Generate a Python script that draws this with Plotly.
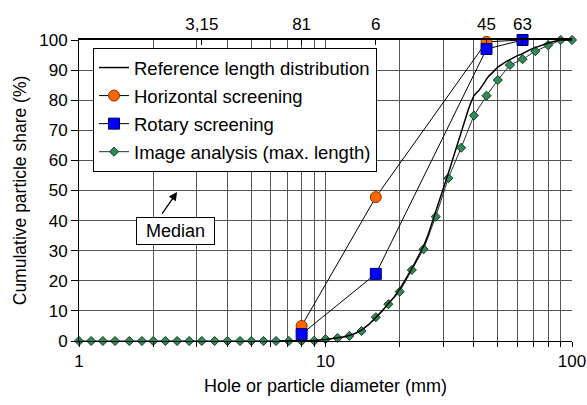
import plotly.graph_objects as go

# ---- data ----
img_x = [1, 1.12, 1.25, 1.4, 1.6, 1.8, 2, 2.24, 2.5, 2.8, 3.15, 3.55, 4, 4.5, 5, 5.6,
         6.3, 7.1, 8, 9, 10, 11.2, 12.5, 14, 16, 18, 20, 22.4, 25, 28, 31.5, 35.5,
         40, 45, 50, 56, 63, 71, 80, 90, 100]
img_y = [0, 0, 0, 0, 0, 0, 0, 0, 0, 0, 0, 0, 0, 0, 0, 0,
         0, 0, 0, 0.1, 0.6, 1.0, 1.7, 3.3, 7.9, 12.2, 16.4, 23.6, 30.5, 41.3, 54.1, 64.2,
         74.9, 81.5, 86.7, 91.7, 93.6, 96.3, 98.3, 100, 100]

ref_x = [6.5, 8, 9, 10, 11, 12, 13, 14, 15, 16, 17, 18, 19, 20, 21, 22, 23, 24, 25,
         26, 27, 28, 29, 30, 31, 32, 33, 34, 35, 36, 37, 38, 39, 40, 41, 42, 43, 44,
         45, 46, 47, 48, 50, 52, 54, 56, 58, 60, 62, 64, 66, 68, 70, 73, 76, 80, 85,
         90, 100]
ref_y = [0, 0.1, 0.2, 0.5, 0.9, 1.4, 2.3, 3.6, 5.5, 7.7, 10.0, 12.5, 14.6, 17.2, 20.0,
         23.0, 25.8, 28.5, 31.5, 35.0, 39.0, 43.0, 46.5, 50.5, 54.0, 57.5, 61.0, 64.5,
         67.5, 71.0, 74.0, 77.0, 79.5, 81.5, 82.5, 83.3, 84.5, 86.0, 87.0, 88.0, 88.6,
         89.5, 91.0, 92.0, 92.8, 93.5, 94.3, 94.8, 95.2, 95.8, 96.5, 96.9, 97.3, 97.9,
         98.4, 99.0, 99.6, 100, 100]

sieve_x = [8, 16, 45, 63]
horiz_y = [5.0, 47.8, 99.4, 100]
rotary_y = [2.3, 22.3, 97.0, 100]

top_tickvals = [3.15, 8, 16, 45, 63]
top_ticktext = ["3,15", "81", "6", "45", "63"]

bottom_tickvals = [1, 2, 3, 4, 5, 6, 7, 8, 9, 10, 20, 30, 40, 50, 60, 70, 80, 90, 100]
bottom_ticktext = ["1", "", "", "", "", "", "", "", "", "10", "", "", "", "", "", "", "", "", "100"]

FONT = "Liberation Sans, Arial, Helvetica, sans-serif"
GRID = "#555555"

fig = go.Figure()

fig.add_trace(go.Scatter(
    x=img_x, y=img_y, mode="lines+markers", name="Image analysis (max. length)",
    line=dict(color="#1e3326", width=1),
    marker=dict(symbol="diamond", size=7, color="#2e8b57", line=dict(color="#163826", width=1)),
    legendrank=4, legendgroup="d", cliponaxis=False))

fig.add_trace(go.Scatter(
    x=ref_x, y=ref_y, mode="lines", name="Reference length distribution",
    line=dict(color="black", width=1.5), legendrank=1, legendgroup="a"))

fig.add_trace(go.Scatter(
    x=sieve_x, y=horiz_y, mode="lines+markers", name="Horizontal screening",
    line=dict(color="black", width=1),
    marker=dict(symbol="circle", size=11, color="#ff6600", line=dict(color="#8a3300", width=1)),
    legendrank=2, legendgroup="b", cliponaxis=False))

fig.add_trace(go.Scatter(
    x=sieve_x, y=rotary_y, mode="lines+markers", name="Rotary screening",
    line=dict(color="black", width=1),
    marker=dict(symbol="square", size=11, color="#0000ff", line=dict(color="#000066", width=1)),
    legendrank=3, legendgroup="c", cliponaxis=False))

# invisible trace to activate the top axis
fig.add_trace(go.Scatter(x=[3.15], y=[None], xaxis="x2", showlegend=False, hoverinfo="skip"))

fig.update_layout(
    width=587, height=405,
    margin=dict(l=79, r=15, t=40, b=64),
    paper_bgcolor="white", plot_bgcolor="white",
    font=dict(family=FONT, size=17, color="black"),
    showlegend=True,
    legend=dict(
        x=0.0284, y=0.9734, xanchor="left", yanchor="top",
        bgcolor="white", bordercolor="black", borderwidth=1,
        font=dict(size=18.5), traceorder="grouped", tracegroupgap=1,
    ),
    xaxis=dict(
        type="log", range=[0, 2], tickmode="array",
        tickvals=bottom_tickvals, ticktext=bottom_ticktext,
        showgrid=True, gridcolor=GRID, gridwidth=1,
        ticks="outside", ticklen=5, tickcolor="black",
        showline=True, linecolor="black", linewidth=1,
        zeroline=False, tickfont=dict(size=17), automargin=False,
        title=dict(text="Hole or particle diameter (mm)", font=dict(size=18), standoff=8),
    ),
    xaxis2=dict(
        type="log", range=[0, 2], overlaying="x", side="top", anchor="y",
        tickmode="array", tickvals=top_tickvals, ticktext=top_ticktext,
        showgrid=False, ticks="inside", ticklen=5, tickcolor="black",
        showline=True, linecolor="black", linewidth=1.5, automargin=False,
        zeroline=False, tickfont=dict(size=17), ticklabelstandoff=1,
    ),
    yaxis=dict(
        range=[0, 100], dtick=10, tick0=0,
        showgrid=True, gridcolor=GRID, gridwidth=1,
        ticks="outside", ticklen=7, tickcolor="black",
        showline=True, linecolor="black", linewidth=1,
        zeroline=False, tickfont=dict(size=17), automargin=False,
        title=dict(text="Cumulative particle share (%)", font=dict(size=17.5), standoff=8),
    ),
)

# Median label box and arrow
fig.add_annotation(
    x=0.392, y=36.6, xref="x", yref="y", text="Median", showarrow=False,
    font=dict(size=18), bgcolor="white", bordercolor="black", borderwidth=1,
    width=75, height=24, borderpad=1)
fig.add_annotation(
    x=0.398, y=49.5, xref="x", yref="y", text="", showarrow=True,
    ax=-16, ay=23, arrowhead=2, arrowsize=1.3, arrowwidth=1.3, arrowcolor="black")

fig.write_html("out.html", config={"displayModeBar": False},
               post_script="document.body.style.margin='0px';")
